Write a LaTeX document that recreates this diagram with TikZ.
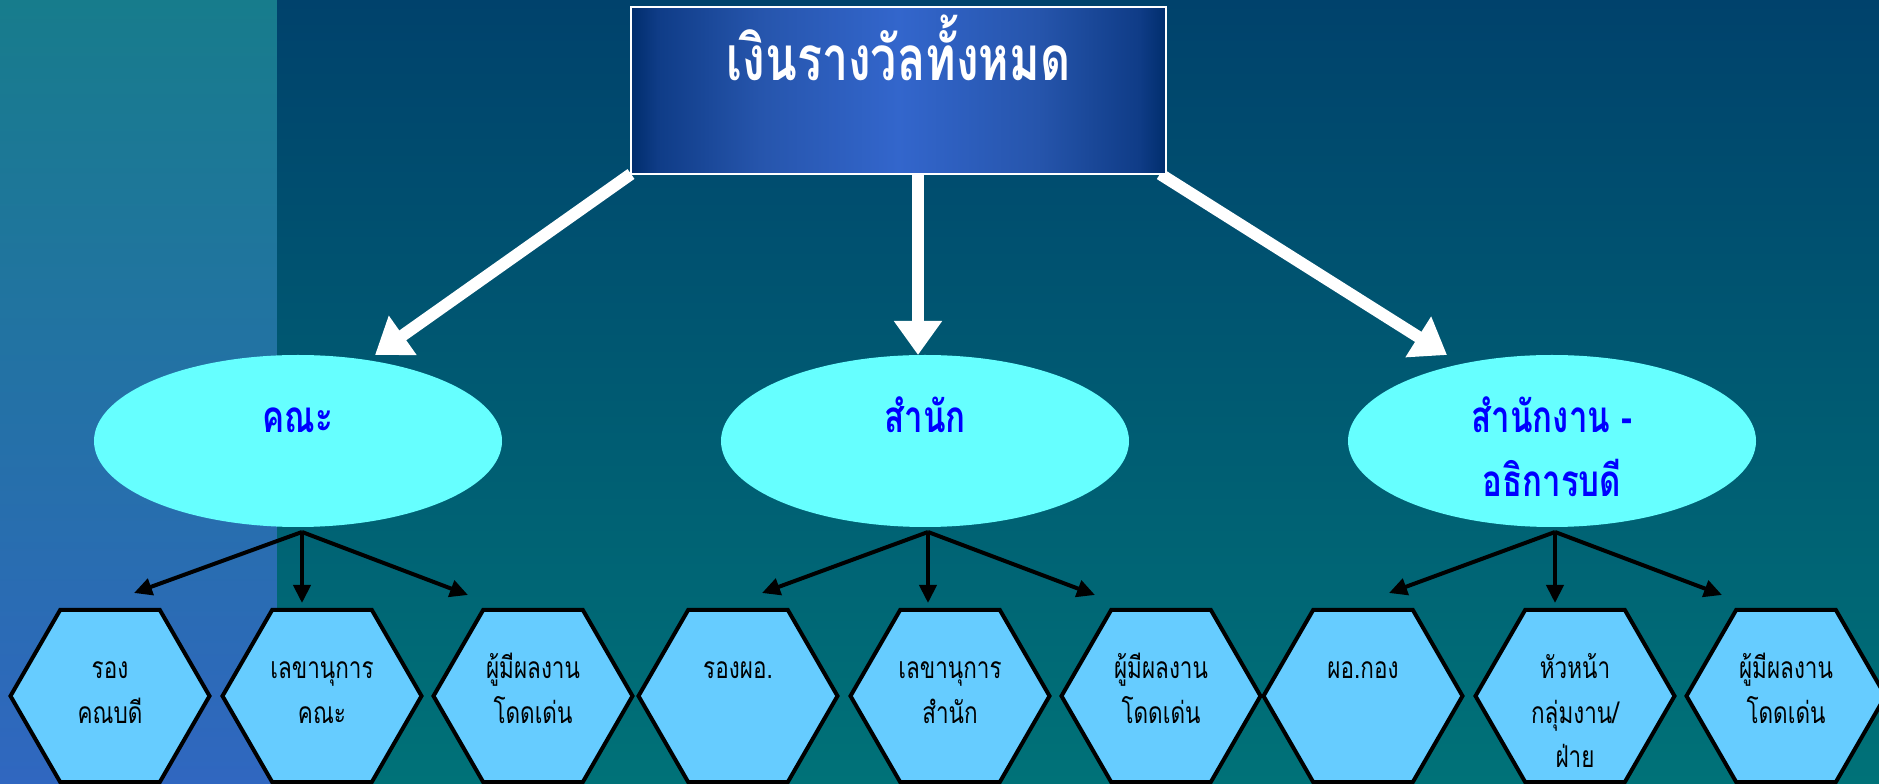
\documentclass[tikz,border=0pt]{standalone}
\usepackage{fontspec}
\usetikzlibrary{arrows.meta,shapes.geometric}
\newfontfamily\thaifont[Script=Thai]{Loma}
\newfontfamily\thaicond[Script=Thai,FakeStretch=0.75]{Loma}
\definecolor{bgtop}{RGB}{0,66,108}
\definecolor{bgbot}{RGB}{0,114,120}
\definecolor{striptop}{RGB}{23,124,140}
\definecolor{stripbot}{RGB}{48,103,192}
\definecolor{boxedge}{RGB}{0,45,108}
\definecolor{boxnear}{RGB}{15,60,135}
\definecolor{boxquart}{RGB}{38,85,172}
\definecolor{boxmid}{RGB}{51,102,204}
\definecolor{ellfill}{RGB}{102,255,255}
\definecolor{hexfill}{RGB}{102,204,255}
\definecolor{elltext}{RGB}{0,0,255}
\pgfdeclarehorizontalshading{titleshade}{100bp}{color(0bp)=(boxedge); color(25bp)=(boxedge); color(27.5bp)=(boxnear); color(37bp)=(boxquart); color(50bp)=(boxmid); color(63bp)=(boxquart); color(72.5bp)=(boxnear); color(75bp)=(boxedge); color(100bp)=(boxedge)}
\tikzset{
  titlebox/.style={rectangle, minimum width=535pt, minimum height=167pt, inner sep=0pt,
    draw=white, line width=2pt, shading=titleshade},
  titletext/.style={text=white, font=\thaicond\bfseries\fontsize{62pt}{70pt}\selectfont, inner sep=0pt},
  bigarrow/.style={draw=white, line width=12pt, -{Triangle[length=34pt,width=46pt]}},
  unit/.style={ellipse, minimum width=408pt, minimum height=172pt, inner sep=0pt, fill=ellfill},
  unittext/.style={text=elltext, font=\thaicond\bfseries\fontsize{44pt}{64pt}\selectfont, inner sep=0pt},
  smallarrow/.style={draw=black, line width=4pt, -{Triangle[length=18pt,width=17pt]}},
  hexa/.style={regular polygon, regular polygon sides=6, minimum size=199pt, inner sep=0pt,
    fill=hexfill, draw=black, line width=4pt},
  hextext/.style={text=black, font=\thaicond\fontsize{30pt}{44.5pt}\selectfont, inner sep=0pt}
}
\begin{document}
\begin{tikzpicture}[x=1pt,y=1pt]
\useasboundingbox (0,0) rectangle (1879,784);
\shade[top color=striptop,bottom color=stripbot] (0,0) rectangle (277,784);
\shade[top color=bgtop,bottom color=bgbot] (277,0) rectangle (1879,784);

% ellipses
\node[unit] (e1) at (298,343) {};
\node[unit] (e2) at (925,343) {};
\node[unit] (e3) at (1552,343) {};

% arrow tips
\coordinate (t1) at (375,429);
\coordinate (t2) at (918,429);
\coordinate (t3) at (1447,429);
\coordinate (s2) at (918,610);

\draw[bigarrow] (631,610) coordinate (s1) -- (t1);
\draw[bigarrow] (s2) -- (t2);
\draw[bigarrow] (1160,610) coordinate (s3) -- (t3);

% title box
\node[titlebox, shade] (title) at (898.5,693.5) {};
\node[titletext, anchor=base] at ([yshift=-75pt]title.north) {เงินรางวัลทั้งหมด};

% ellipse labels
\node[unittext, anchor=base] at ([yshift=8pt]e1.center) {คณะ};
\node[unittext, anchor=base] at ([yshift=8pt]e2.center) {สำนัก};
\node[unittext, anchor=base] at ([yshift=8pt]e3.center) {\begin{tabular}[t]{@{}c@{}}สำนักงาน -\\อธิการบดี\end{tabular}};

% hexagons
\foreach \n/\x in {1/110,2/322,3/533,4/738,5/950,6/1161,7/1363,8/1575,9/1786}
  \node[hexa] (h\n) at (\x,88) {};

\node[hextext, anchor=base] at ([yshift=17pt]h1.center) {\begin{tabular}[t]{@{}c@{}}รอง\\คณบดี\end{tabular}};
\node[hextext, anchor=base] at ([yshift=17pt]h2.center) {\begin{tabular}[t]{@{}c@{}}เลขานุการ\\คณะ\end{tabular}};
\node[hextext, anchor=base] at ([yshift=17pt]h3.center) {\begin{tabular}[t]{@{}c@{}}ผู้มีผลงาน\\โดดเด่น\end{tabular}};
\node[hextext, anchor=base] at ([yshift=17pt]h4.center) {รองผอ.};
\node[hextext, anchor=base] at ([yshift=17pt]h5.center) {\begin{tabular}[t]{@{}c@{}}เลขานุการ\\สำนัก\end{tabular}};
\node[hextext, anchor=base] at ([yshift=17pt]h6.center) {\begin{tabular}[t]{@{}c@{}}ผู้มีผลงาน\\โดดเด่น\end{tabular}};
\node[hextext, anchor=base] at ([yshift=17pt]h7.center) {ผอ.กอง};
\node[hextext, anchor=base] at ([yshift=17pt]h8.center) {\begin{tabular}[t]{@{}c@{}}หัวหน้า\\กลุ่มงาน/\\ฝ่าย\end{tabular}};
\node[hextext, anchor=base] at ([yshift=17pt]h9.center) {\begin{tabular}[t]{@{}c@{}}ผู้มีผลงาน\\โดดเด่น\end{tabular}};

% small arrows
\coordinate (p1) at (302,252);
\coordinate (p2) at (928,252);
\coordinate (p3) at (1555,252);
\coordinate (a1) at (134,191); \coordinate (b1) at (302,181); \coordinate (c1) at (468,189);
\coordinate (a2) at (762,191); \coordinate (b2) at (928,181); \coordinate (c2) at (1095,189);
\coordinate (a3) at (1389,191); \coordinate (b3) at (1555,181); \coordinate (c3) at (1722,189);
\foreach \i in {1,2,3}{
  \draw[smallarrow] (p\i) -- (a\i);
  \draw[smallarrow] (p\i) -- (b\i);
  \draw[smallarrow] (p\i) -- (c\i);
}
\end{tikzpicture}
\end{document}
